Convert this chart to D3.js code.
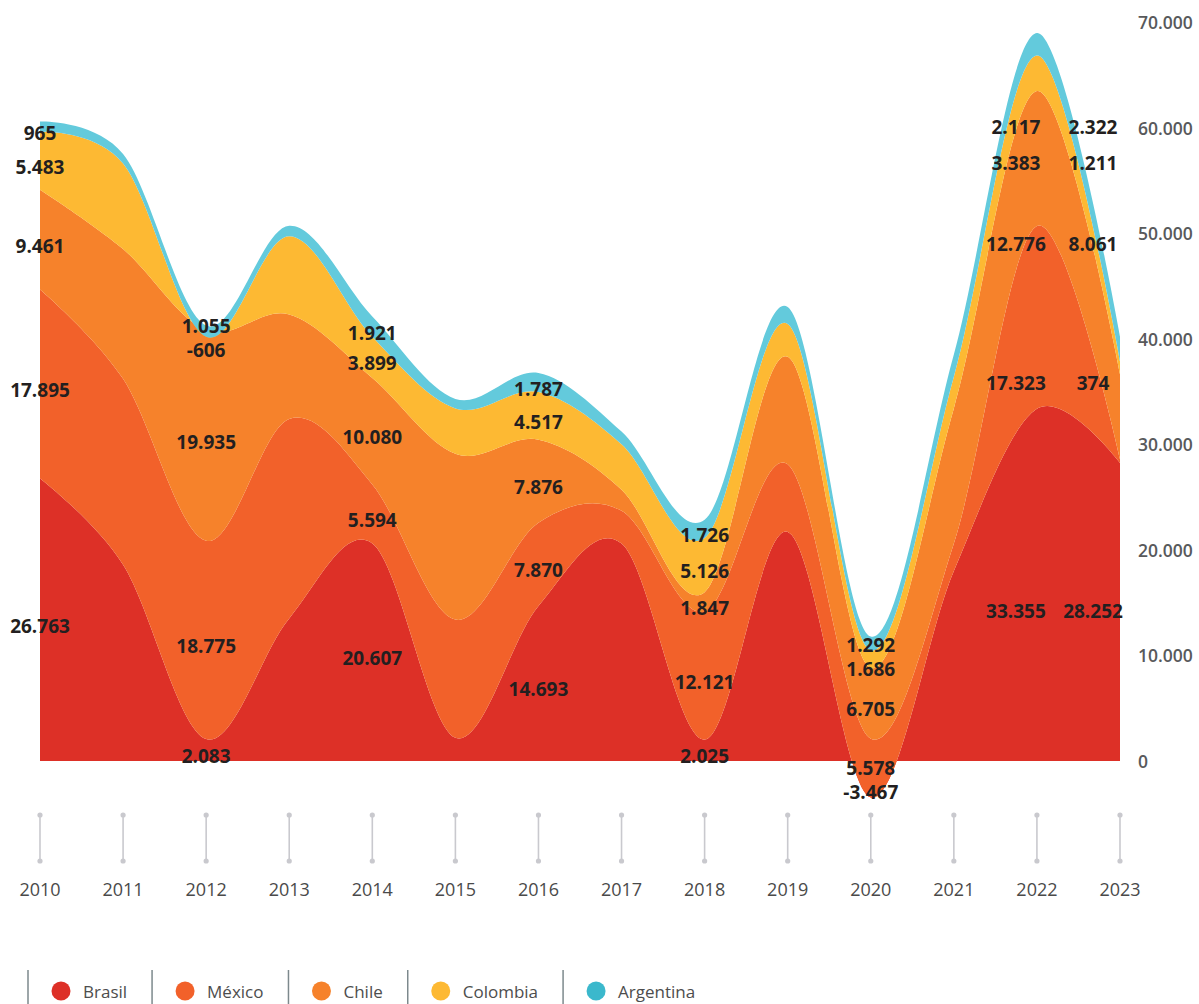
<!DOCTYPE html>
<html>
<head>
<meta charset="utf-8">
<script src="https://cdn.jsdelivr.net/npm/d3@7"></script>
<style>
  html, body { margin: 0; padding: 0; background: #ffffff; }
  svg { display: block; font-family: "Open Sans", "Noto Sans", sans-serif; }
</style>
</head>
<body>
<svg id="chart" width="1199" height="1004"></svg>
<script>
// ---------------- DATA ----------------
const years = [2010, 2011, 2012, 2013, 2014, 2015, 2016, 2017, 2018, 2019, 2020, 2021, 2022, 2023];
const countries = ["Brasil", "México", "Chile", "Colombia", "Argentina"];
const brasil    = [26763, 18600,  2083, 13500, 20607,  2200, 14693, 20600,  2025, 21700, -3467, 18000, 33355, 28252];
const mexico    = [17895, 17600, 18775, 18900,  5594, 11200,  7870,  3100, 12121,  6400,  5578,  2600, 17323,   374];
const chile     = [ 9461, 12300, 19935,  9900, 10080, 15700,  7876,  2000,  1847, 10200,  6705, 12800, 12776,  8061];
const colombia  = [ 5483,  8100,  -606,  7400,  3899,  4300,  4517,  4300,  5126,  3100,  1686,  3000,  3383,  1211];
const argentina = [  965,   900,  1055,  1000,  1921,   900,  1787,  1200,  1726,  1600,  1292,  2100,  2117,  2322];
const labeledYears = [2010, 2012, 2014, 2016, 2018, 2020, 2022, 2023];
const yTicks = [0, 10000, 20000, 30000, 40000, 50000, 60000, 70000];

// ---------------- STYLE ----------------
const areaColors   = ["#dd3027", "#f2612a", "#f6822b", "#fdb933", "#63cadc"];
const legendColors = ["#dd3027", "#f2612a", "#f6822b", "#fdb933", "#3bb8cc"];

const seriesValues = [brasil, mexico, chile, colombia, argentina];
const table = years.map((yr, i) => {
  const row = { year: yr };
  countries.forEach((c, k) => row[c] = seriesValues[k][i]);
  return row;
});

const svg = d3.select("#chart");
const x = d3.scaleLinear().domain([2010, 2023]).range([40, 1120]);
const y = d3.scaleLinear().domain([0, 70000]).range([761, 22]);

const loc = d3.formatLocale({ decimal: ",", thousands: ".", grouping: [3], currency: ["", ""], minus: "-" });
const fmt = loc.format(",");

const stack = d3.stack().keys(countries).offset(d3.stackOffsetNone).order(d3.stackOrderNone);
const layers = stack(table);

const area = d3.area()
  .x(d => x(d.data.year))
  .y0(d => y(d[0]))
  .y1(d => y(d[1]))
  .curve(d3.curveCardinal.tension(0));

svg.append("g").selectAll("path").data(layers).join("path")
  .attr("d", area)
  .attr("fill", (d, i) => areaColors[i]);

// ---------------- value labels ----------------
function midAt(k, t) {
  const i0 = Math.max(0, Math.min(years.length - 2, Math.floor(t - years[0])));
  const f = t - years[i0];
  const a = layers[k][i0], b = layers[k][i0 + 1];
  const m0 = (a[0] + a[1]) / 2, m1 = (b[0] + b[1]) / 2;
  return y(m0 + (m1 - m0) * f);
}
const labelG = svg.append("g");
labeledYears.forEach(yr => {
  const idx = years.indexOf(yr);
  const paired = yr >= 2022;
  const t = paired ? 2021.75 : yr;
  const ys = countries.map((c, k) => midAt(k, t));
  const minGap = paired ? 36 : 24;
  for (let it = 0; it < 40; it++) {
    for (let k = 1; k < ys.length; k++) {
      const gap = ys[k - 1] - ys[k];
      if (gap < minGap) {
        const push = (minGap - gap) / 2;
        ys[k - 1] += push; ys[k] -= push;
      }
    }
  }
  const dx = yr === 2022 ? -21 : (yr === 2023 ? -27 : 0);
  countries.forEach((c, k) => {
    labelG.append("text")
      .attr("x", x(yr) + dx)
      .attr("y", ys[k] + 6)
      .attr("text-anchor", "middle")
      .attr("dominant-baseline", "central")
      .attr("font-size", 19)
      .attr("font-weight", 700)
      .attr("fill", "#231f20")
      .text(fmt(seriesValues[k][idx]));
  });
});

// ---------------- right axis ----------------
const yAxisG = svg.append("g");
yAxisG.selectAll("text").data(yTicks).join("text")
  .attr("x", 1138)
  .attr("y", d => y(d))
  .attr("dominant-baseline", "central")
  .attr("font-size", 17.5)
  .attr("font-weight", 600)
  .attr("fill", "#58595b")
  .text(d => fmt(d));

// ---------------- x axis ----------------
const xAxisG = svg.append("g");
const tickG = xAxisG.selectAll("g").data(years).join("g")
  .attr("transform", d => `translate(${x(d)},0)`);
tickG.append("line").attr("y1", 815).attr("y2", 861)
  .attr("stroke", "#c9c9ce").attr("stroke-width", 1.6);
tickG.append("circle").attr("cy", 815).attr("r", 2.6).attr("fill", "#c9c9ce");
tickG.append("circle").attr("cy", 861).attr("r", 2.6).attr("fill", "#c9c9ce");
tickG.append("text").attr("y", 889)
  .attr("text-anchor", "middle").attr("dominant-baseline", "central")
  .attr("font-size", 18).attr("fill", "#4a4a4a")
  .text(d => d);

// ---------------- legend ----------------
const legendG = svg.append("g");
let lx = 28;
countries.forEach((c, k) => {
  legendG.append("line").attr("x1", lx).attr("x2", lx).attr("y1", 970).attr("y2", 1004)
    .attr("stroke", "#7d898d").attr("stroke-width", 1.5);
  legendG.append("circle").attr("cx", lx + 33).attr("cy", 991).attr("r", 9.5)
    .attr("fill", legendColors[k]);
  const t = legendG.append("text").attr("x", lx + 55).attr("y", 998)
    .attr("font-size", 17).attr("fill", "#4d4d4d").text(c);
  lx = lx + 55 + t.node().getComputedTextLength() + 25;
});
</script>
</body>
</html>
